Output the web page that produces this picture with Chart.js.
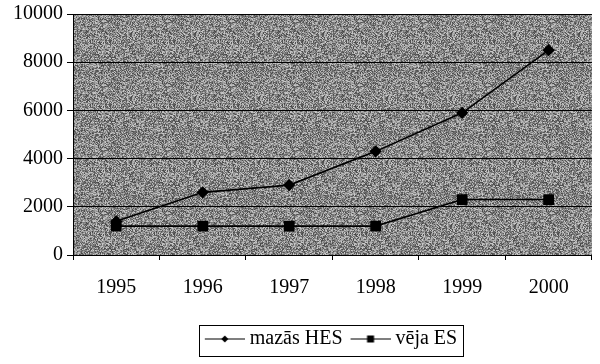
<!DOCTYPE html>
<html lang="lv">
<head>
    <meta charset="UTF-8">
    <title>mazās HES un vēja ES</title>
    <script src="https://cdn.jsdelivr.net/npm/chart.js"></script>
    <style>
        html, body { margin: 0; padding: 0; background: #fff; }
        .chart-container { width: 600px; height: 364px; }
    </style>
</head>
<body>
<div class="chart-container">
    <canvas id="hesChart"></canvas>
</div>
<script>
    // data
    const years = ['1995', '1996', '1997', '1998', '1999', '2000'];
    const mazasHES = [1400, 2600, 2900, 4300, 5900, 8500];
    const vejaES = [1200, 1200, 1200, 1200, 2300, 2300];
    const yTicks = [0, 2000, 4000, 6000, 8000, 10000];

    const serif = "'Liberation Serif', 'Times New Roman', serif";
    const fontSize = 20;
    Chart.defaults.font.family = serif;
    Chart.defaults.color = '#000';

    // grey speckled plot background, like the scanned original
    function makeNoise() {
        const c = document.createElement('canvas');
        c.width = 64; c.height = 64;
        const g = c.getContext('2d');
        const img = g.createImageData(64, 64);
        let s = 12345;
        for (let i = 0; i < 64 * 64; i++) {
            s = (s * 1103515245 + 12345) & 0x7fffffff;
            const v = 70 + (s >> 8) % 135;
            img.data[i * 4] = v; img.data[i * 4 + 1] = v; img.data[i * 4 + 2] = v; img.data[i * 4 + 3] = 255;
        }
        g.putImageData(img, 0, 0);
        return c;
    }
    const noise = makeNoise();

    // legend symbol: short line with marker in the middle (drawn a bit right of centre)
    function legendIcon(shape) {
        const c = document.createElement('canvas');
        c.width = 44; c.height = 10;
        const g = c.getContext('2d');
        g.strokeStyle = '#000'; g.fillStyle = '#000'; g.lineWidth = 1.2;
        g.beginPath(); g.moveTo(4, 5); g.lineTo(44, 5); g.stroke();
        if (shape === 'diamond') {
            g.beginPath(); g.moveTo(24, 1.5); g.lineTo(27.5, 5); g.lineTo(24, 8.5); g.lineTo(20.5, 5); g.closePath(); g.fill();
        } else {
            g.fillRect(20.5, 1.5, 7, 7);
        }
        return c;
    }
    const icons = [legendIcon('diamond'), legendIcon('square')];
    const iconBox = 34;
    const itemPad = 9;

    const bgPlugin = {
        id: 'plotBg',
        beforeDraw(chart) {
            const a = chart.chartArea, ctx = chart.ctx;
            ctx.save();
            ctx.fillStyle = ctx.createPattern(noise, 'repeat');
            ctx.fillRect(a.left, a.top, a.right - a.left, a.bottom - a.top);
            ctx.restore();
        }
    };

    // legend in the original sits right of centre, with a frame round it
    const legendShift = 30;
    const legendBox = {
        id: 'legendBox',
        afterLayout(chart) {
            chart.legend.left += legendShift;
            chart.legend.right += legendShift;
        },
        afterDraw(chart) {
            const lg = chart.legend, ctx = chart.ctx;
            ctx.save();
            ctx.font = fontSize + 'px ' + serif;
            const widths = chart.data.datasets.map(ds => iconBox + fontSize / 2 + ctx.measureText(ds.label).width);
            const lineWidth = widths.reduce((a, w) => a + w + itemPad, 0);
            const start = (lg.left + itemPad + lg.right - lineWidth) / 2;
            const end = start + lineWidth - itemPad;
            const cy = lg.top + itemPad + fontSize * 0.6;
            ctx.strokeStyle = '#000'; ctx.lineWidth = 1;
            ctx.strokeRect(Math.round(start - 7) + 0.5, Math.round(cy - 16) + 0.5, Math.round(end - start + 13), 31);
            ctx.restore();
        }
    };

    const ctx = document.getElementById('hesChart').getContext('2d');
    new Chart(ctx, {
        type: 'line',
        data: {
            labels: years,
            datasets: [{
                label: 'mazās HES',
                data: mazasHES,
                borderColor: '#000',
                backgroundColor: '#000',
                borderWidth: 1.6,
                pointStyle: 'rectRot',
                pointRadius: 5,
                tension: 0
            }, {
                label: 'vēja ES',
                data: vejaES,
                borderColor: '#000',
                backgroundColor: '#000',
                borderWidth: 1.6,
                pointStyle: 'rect',
                pointRadius: 6.5,
                tension: 0
            }]
        },
        options: {
            responsive: true,
            maintainAspectRatio: false,
            animation: false,
            layout: { padding: { left: 9, right: 6, top: 0, bottom: 5 } },
            scales: {
                x: {
                    offset: true,
                    grid: { offset: true, drawOnChartArea: false, drawTicks: true, tickLength: 5, color: '#000' },
                    border: { color: '#000', width: 1 },
                    ticks: { color: '#000', font: { family: serif, size: fontSize }, padding: 16, maxRotation: 0 },
                    afterFit(axis) { axis.height += 4; }
                },
                y: {
                    min: 0,
                    max: 10000,
                    afterBuildTicks(axis) { axis.ticks = yTicks.map(v => ({ value: v })); },
                    grid: { color: '#000', lineWidth: 1, tickLength: 6 },
                    border: { color: '#000', width: 1 },
                    ticks: {
                        color: '#000',
                        font: { family: serif, size: fontSize, lineHeight: 1.0 },
                        padding: 4,
                        callback: v => String(v)
                    }
                }
            },
            plugins: {
                tooltip: { enabled: false },
                legend: {
                    position: 'bottom',
                    labels: {
                        color: '#000',
                        font: { family: serif, size: fontSize },
                        usePointStyle: true,
                        pointStyleWidth: iconBox,
                        padding: itemPad,
                        generateLabels(chart) {
                            return chart.data.datasets.map((ds, i) => ({
                                text: ds.label,
                                pointStyle: icons[i],
                                fillStyle: '#000',
                                strokeStyle: '#000',
                                lineWidth: 0,
                                fontColor: '#000',
                                datasetIndex: i,
                                hidden: false
                            }));
                        }
                    }
                }
            }
        },
        plugins: [bgPlugin, legendBox]
    });
</script>
</body>
</html>
